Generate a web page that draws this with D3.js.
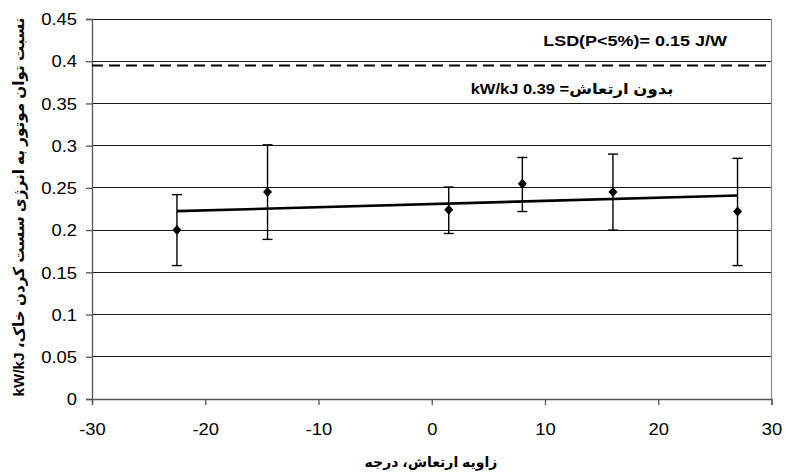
<!DOCTYPE html>
<html>
<head>
<meta charset="utf-8">
<script src="https://cdn.jsdelivr.net/npm/d3@7"></script>
<style>
  html, body { margin: 0; padding: 0; background: #fff; }
  svg { display: block; font-family: "Liberation Sans", Arial, sans-serif; }
  .ar { font-family: "Liberation Sans", "DejaVu Sans", sans-serif; font-weight: bold; }
</style>
</head>
<body>
<svg id="chart" width="785" height="473"></svg>
<script>
// Vibration angle (degrees) and measured power ratio with its error range
const angles  = [-22.5, -14.5, 1.5, 8, 16, 27];
const ratios  = [0.200, 0.245, 0.224, 0.255, 0.245, 0.222];
const errLow  = [0.158, 0.189, 0.196, 0.222, 0.200, 0.158];
const errHigh = [0.242, 0.301, 0.251, 0.286, 0.290, 0.285];

// Reference level without vibration
const noVibration = 0.395;

const xTicks = [-30, -20, -10, 0, 10, 20, 30];
const yTicks = [0, 0.05, 0.1, 0.15, 0.2, 0.25, 0.3, 0.35, 0.4, 0.45];

const lsdLabel = "LSD(P<5%)= 0.15 J/W";
const refLabel = "بدون ارتعاش= 0.39 kW/kJ";
const xTitle = "زاویه ارتعاش، درجه";
const yTitle = "نسبت توان موتور به انرژی سست کردن خاک، kW/kJ";

const svg = d3.select("#chart");
const plotL = 92, plotR = 771.5, plotT = 19, plotB = 399;
const sx = 1.15; // horizontal stretch of the lettering

const x = d3.scaleLinear().domain([-30, 30]).range([plotL, plotR]);
const y = d3.scaleLinear().domain([0, 0.45]).range([plotB, plotT]);

// horizontal gridlines
svg.append("g").selectAll("line").data(yTicks.slice(1)).join("line")
  .attr("x1", plotL).attr("x2", plotR)
  .attr("y1", d => y(d)).attr("y2", d => y(d))
  .attr("stroke", "#1a1a1a").attr("stroke-width", 1)
  .attr("shape-rendering", "crispEdges");

// right frame edge
svg.append("line")
  .attr("x1", plotR).attr("x2", plotR).attr("y1", plotT).attr("y2", plotB)
  .attr("stroke", "#8c8c8c").attr("stroke-width", 1.2);

// axes
const yAxis = svg.append("g").attr("transform", `translate(${plotL},0)`)
  .call(d3.axisLeft(y).tickValues(yTicks).tickSize(6).tickPadding(0)
    .tickFormat(d => String(+d.toFixed(2))));
const xAxis = svg.append("g").attr("transform", `translate(0,${plotB})`)
  .call(d3.axisBottom(x).tickValues(xTicks).tickSize(6).tickPadding(0)
    .tickFormat(d => String(d)));

[yAxis, xAxis].forEach(g => {
  g.select(".domain").attr("stroke", "#555").attr("stroke-width", 1.3);
  g.selectAll(".tick line").attr("stroke", "#555").attr("stroke-width", 1.3);
  g.selectAll("text").attr("fill", "#000").attr("font-size", 16)
    .attr("font-family", "'Liberation Sans', Arial, sans-serif");
});
yAxis.selectAll(".tick text").attr("x", null).attr("dy", "0.36em")
  .attr("transform", `translate(-15,0) scale(${sx},1)`);
xAxis.selectAll(".tick text").attr("y", null).attr("dy", null)
  .attr("transform", `translate(0,36) scale(${sx},1)`);

// dashed reference line
svg.append("line")
  .attr("x1", plotL).attr("x2", plotR)
  .attr("y1", y(noVibration)).attr("y2", y(noVibration))
  .attr("stroke", "#000").attr("stroke-width", 2)
  .attr("stroke-dasharray", "11,6");

// linear trend through the measurements
const mx = d3.mean(angles), my = d3.mean(ratios);
const slope = d3.sum(angles, (a, i) => (a - mx) * (ratios[i] - my)) /
              d3.sum(angles, a => (a - mx) * (a - mx));
const xMin = d3.min(angles), xMax = d3.max(angles);
const trend = [xMin, xMax].map(a => [a, my + slope * (a - mx)]);
svg.append("path")
  .attr("d", d3.line().x(d => x(d[0])).y(d => y(d[1]))(trend))
  .attr("fill", "none").attr("stroke", "#000").attr("stroke-width", 2.6);

// error bars
const eb = svg.append("g").attr("stroke", "#000").attr("stroke-width", 1.4);
angles.forEach((a, i) => {
  const cx = x(a);
  eb.append("line").attr("x1", cx).attr("x2", cx)
    .attr("y1", y(errLow[i])).attr("y2", y(errHigh[i]));
  [errLow[i], errHigh[i]].forEach(v => eb.append("line")
    .attr("x1", cx - 5).attr("x2", cx + 5)
    .attr("y1", y(v)).attr("y2", y(v)));
});

// diamond markers
svg.append("g").selectAll("path").data(angles).join("path")
  .attr("transform", (a, i) => `translate(${x(a)},${y(ratios[i])})`)
  .attr("d", "M0,-5L4.5,0L0,5L-4.5,0Z")
  .attr("fill", "#000");

// annotations
svg.append("text")
  .attr("transform", `translate(727,46) scale(1.2,1)`)
  .attr("text-anchor", "end").attr("font-weight", "bold").attr("font-size", 15)
  .text(lsdLabel);
svg.append("text").attr("class", "ar")
  .attr("transform", `translate(572,94) scale(1.1,1)`)
  .attr("text-anchor", "middle").attr("direction", "rtl")
  .attr("font-size", 15)
  .text(refLabel);

// axis titles
svg.append("text").attr("class", "ar")
  .attr("transform", `translate(431,467)`)
  .attr("text-anchor", "middle").attr("direction", "rtl")
  .attr("font-size", 14)
  .text(xTitle);
svg.append("text").attr("class", "ar")
  .attr("transform", `translate(24,207) rotate(-90)`)
  .attr("text-anchor", "middle").attr("direction", "rtl")
  .attr("font-size", 15.2)
  .text(yTitle);
</script>
</body>
</html>
